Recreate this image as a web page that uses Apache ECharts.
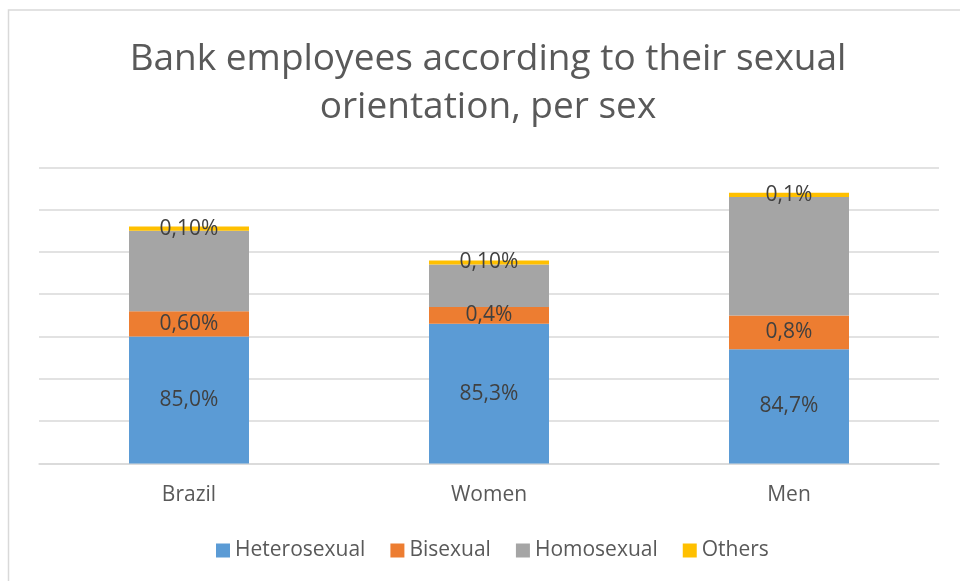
<!DOCTYPE html>
<html>
<head>
<meta charset="utf-8">
<script src="https://cdn.jsdelivr.net/npm/echarts@6/dist/echarts.min.js"></script>
<style>
html,body{margin:0;padding:0;background:#fff;}
#chart{width:960px;height:581px;}
</style>
</head>
<body>
<div id="chart"></div>
<script>
const categories = ['Brazil', 'Women', 'Men'];
const seriesNames = ['Heterosexual', 'Bisexual', 'Homosexual', 'Others'];
const heterosexual = [85.0, 85.3, 84.7];
const bisexual = [0.6, 0.4, 0.8];
const homosexual = [1.9, 1.0, 2.8];
const others = [0.1, 0.1, 0.1];
const heteroLabels = ['85,0%', '85,3%', '84,7%'];
const bisexLabels = ['0,60%', '0,4%', '0,8%'];
const othersLabels = ['0,10%', '0,10%', '0,1%'];
const titleText = 'Bank employees according to their sexual\norientation, per sex';

const colors = ['#5B9BD5', '#ED7D31', '#A5A5A5', '#FFC000'];
const FONT = "'Open Sans', 'Noto Sans', sans-serif";

const chart = echarts.init(document.getElementById('chart'), null, {renderer: 'canvas'});

function labelCfg(arr) {
  if (!arr) return {show: false};
  return {
    show: true,
    position: 'inside',
    color: '#404040',
    fontFamily: FONT,
    fontSize: 21,
    padding: [4, 0, 0, 0],
    formatter: p => arr[p.dataIndex]
  };
}

const datas = [heterosexual, bisexual, homosexual, others];
const labs = [heteroLabels, bisexLabels, null, othersLabels];

const option = {
  backgroundColor: '#ffffff',
  animation: false,
  color: colors,
  graphic: [{
    type: 'rect',
    silent: true,
    z: -10,
    shape: {x: 8.5, y: 10, width: 1000, height: 1000},
    style: {fill: 'none', stroke: '#d9d9d9', lineWidth: 1.5}
  }, {
    type: 'text',
    silent: true,
    x: 488,
    y: 35,
    style: {
      text: titleText,
      fontFamily: FONT,
      fontSize: 37,
      fontWeight: 'normal',
      fill: '#595959',
      lineHeight: 48,
      align: 'center',
      verticalAlign: 'top'
    }
  }],
  legend: {
    data: seriesNames,
    left: 211,
    top: 535,
    itemWidth: 14,
    itemHeight: 14,
    itemGap: 25,
    icon: 'rect',
    textStyle: {fontFamily: FONT, fontSize: 21, color: '#595959', padding: [0, 0, 0, 0]}
  },
  grid: {left: 39, right: 21, top: 167.3, bottom: 117.5, containLabel: false},
  xAxis: {
    type: 'category',
    data: categories,
    axisLine: {show: true, lineStyle: {color: '#d9d9d9', width: 1.5}},
    axisTick: {show: false},
    axisLabel: {fontFamily: FONT, fontSize: 21, color: '#595959', margin: 21}
  },
  yAxis: {
    type: 'value',
    min: 82,
    max: 89,
    interval: 1,
    axisLabel: {show: false},
    axisLine: {show: false},
    axisTick: {show: false},
    splitLine: {show: true, lineStyle: {color: '#d9d9d9', width: 1.5}}
  },
  series: seriesNames.map((name, i) => ({
    name: name,
    type: 'bar',
    stack: 'total',
    barWidth: 120,
    data: datas[i],
    clip: true,
    itemStyle: {color: colors[i]},
    label: labelCfg(labs[i])
  }))
};

chart.setOption(option);
</script>
</body>
</html>
